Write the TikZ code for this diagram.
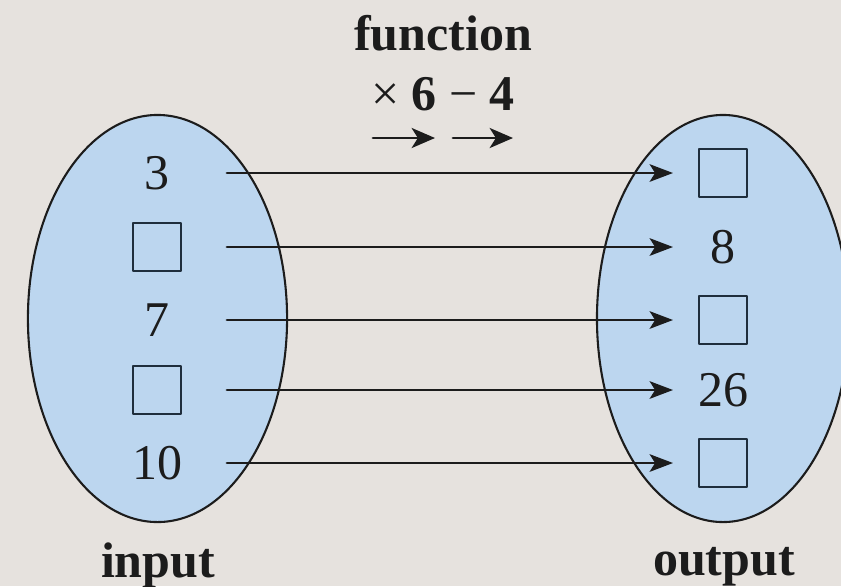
\documentclass[tikz,border=0pt]{standalone}
\usepackage{fontspec}
\setmainfont{Liberation Serif}
\usetikzlibrary{arrows.meta,positioning,shapes.geometric}
\definecolor{fnPaper}{HTML}{E6E2DE}
\definecolor{fnBlue}{HTML}{BCD6EF}
\definecolor{fnInk}{HTML}{1C1C1C}
\definecolor{fnBox}{HTML}{1F2E3C}
\tikzset{
 mapping/.style={font=\fontsize{12}{14}\selectfont,text=fnInk,line cap=round,line join=round},
 setblob/.style={ellipse,draw=fnInk,fill=fnBlue,line width=.5pt,inner sep=0pt,minimum height=97.7pt},
 val/.style={inner sep=0pt},
 blank/.style={rectangle,draw=fnBox,line width=.55pt,inner sep=0pt,minimum size=11.6pt},
 mapsto/.style={draw=fnInk,line width=.65pt,-{Stealth[length=5.6pt,width=4.2pt,inset=1.3pt]}},
 rulearrow/.style={draw=fnInk,line width=.7pt,-{Stealth[length=5.6pt,width=4.8pt,inset=1.5pt]}},
 setname/.style={font=\fontsize{12}{14}\selectfont\bfseries,anchor=base}
}
\begin{document}
\begin{tikzpicture}[mapping,x=.24pt,y=-.24pt]
 \fill[fnPaper] (0,0) rectangle (841,586);
 \useasboundingbox (0,0) rectangle (841,586);
 % the two sets
 \node[setblob,minimum width=62.2pt] (domain) at (157.5,318.5) {};
 \node[setblob,minimum width=60.5pt] (range) at (723,318.5) {};
 % inputs
 \node[val] (in1) at (157,173) {3};
 \node[blank] (in2) at (157,247) {};
 \node[val] (in3) at (157,320) {7};
 \node[blank] (in4) at (157,390) {};
 \node[val] (in5) at (157,463) {10};
 % outputs
 \node[blank] (out1) at (723,173) {};
 \node[val] (out2) at (723,247) {8};
 \node[blank] (out3) at (723,320) {};
 \node[val] (out4) at (723,390) {26};
 \node[blank] (out5) at (723,463) {};
 \foreach \i in {1,...,5}
   \draw[mapsto,shorten <=16.8pt,shorten >=12pt] (in\i.center) -- (out\i.center);
 % the rule
 \node[setname] (fname) at (443,50) {function};
 \node[anchor=base] (frule) at (443,110) {× \textbf{6} − \textbf{4}};
 \coordinate (r1a) at (373,138); \coordinate (r1b) at (435,138);
 \coordinate (r2a) at (453,138); \coordinate (r2b) at (513,138);
 \draw[rulearrow] (r1a) -- (r1b);
 \draw[rulearrow] (r2a) -- (r2b);
 \node[setname] (inlbl) at (158,577) {input};
 \node[setname] (outlbl) at (724,575) {output};
\end{tikzpicture}
\end{document}
